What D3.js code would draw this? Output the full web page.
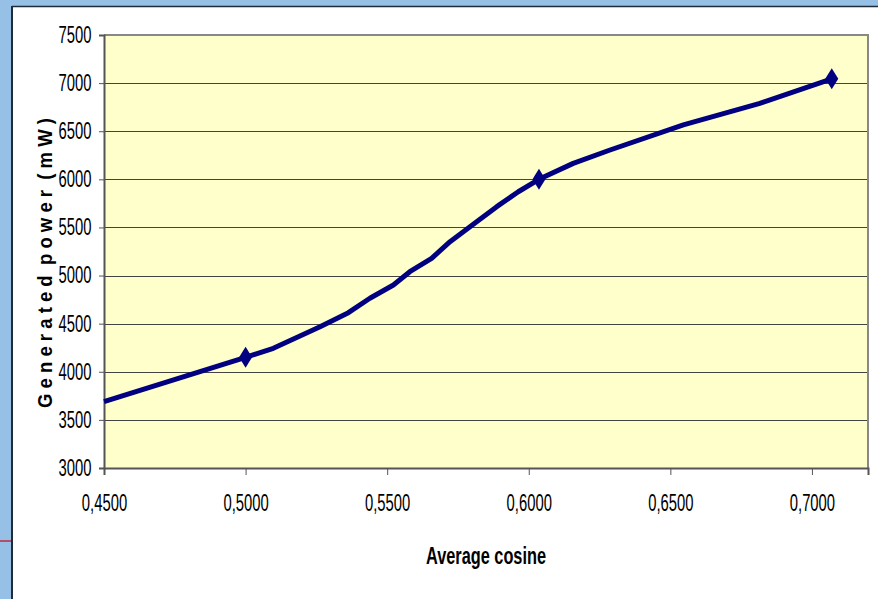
<!DOCTYPE html>
<html>
<head>
<meta charset="utf-8">
<script src="https://cdn.jsdelivr.net/npm/d3@7"></script>
<style>
  html, body { margin: 0; padding: 0; background: #96C0E6; }
  svg { display: block; }
  text { font-family: "Liberation Sans", Arial, sans-serif; fill: #000; }
</style>
</head>
<body>
<svg id="chart" width="878" height="599"></svg>
<script>
// Generated power versus average cosine
const cosine = [0.4500, 0.5000, 0.5098, 0.5263, 0.5363, 0.5439, 0.5522, 0.5580, 0.5657,
                0.5722, 0.5816, 0.5887, 0.5963, 0.6036, 0.6157, 0.6287, 0.6546, 0.6816, 0.7070];
const power  = [3690, 4150, 4244, 4468, 4614, 4764, 4902, 5040, 5179,
                5352, 5560, 5716, 5871, 6000, 6166, 6305, 6565, 6790, 7045];

// Measured points shown with diamond markers
const markerCosine = [0.5000, 0.6036, 0.7070];
const markerPower  = [4150, 6000, 7045];

// Axis ticks
const xTickValues = [0.45, 0.50, 0.55, 0.60, 0.65, 0.70];
const yTickValues = [3000, 3500, 4000, 4500, 5000, 5500, 6000, 6500, 7000, 7500];
const xDomain = [0.45, 0.7198];
const yDomain = [3000, 7500];

const xTitle = "Average cosine";
const yTitle = "G e n e r a t e d  p o w e r  ( m W )";

const svg = d3.select("#chart");
const W = 878, H = 599;

// Outer frame: blue margin, white chart area, dark edge
svg.append("rect").attr("x", 0).attr("y", 0).attr("width", W).attr("height", H).attr("fill", "#96C0E6");
svg.append("rect").attr("x", 12).attr("y", 7).attr("width", W - 12).attr("height", H - 7).attr("fill", "#ffffff");
svg.append("line").attr("x1", 12).attr("x2", 12).attr("y1", 6).attr("y2", H)
  .attr("stroke", "#1E2B38").attr("stroke-width", 2);
svg.append("line").attr("x1", 12).attr("x2", W).attr("y1", 6.5).attr("y2", 6.5)
  .attr("stroke", "#1E2B38").attr("stroke-width", 1.5);
svg.append("line").attr("x1", 0).attr("x2", 11).attr("y1", 541).attr("y2", 541)
  .attr("stroke", "#B0506A").attr("stroke-width", 2);

const plot = { left: 104, top: 35, right: 868, bottom: 468 };

const x = d3.scaleLinear().domain(xDomain).range([plot.left, plot.right]);
const y = d3.scaleLinear().domain(yDomain).range([plot.bottom, plot.top]);

// Plot area background
svg.append("rect")
  .attr("x", plot.left).attr("y", plot.top)
  .attr("width", plot.right - plot.left).attr("height", plot.bottom - plot.top)
  .attr("fill", "#FFFFCC");

// Horizontal gridlines
svg.append("g").selectAll("line")
  .data(yTickValues.filter(v => v > yDomain[0] && v < yDomain[1]))
  .join("line")
  .attr("x1", plot.left).attr("x2", plot.right)
  .attr("y1", d => Math.round(y(d)) + 0.5).attr("y2", d => Math.round(y(d)) + 0.5)
  .attr("stroke", "#444").attr("stroke-width", 1);

// Top and right border of the plot area
svg.append("path")
  .attr("d", `M${plot.left},${plot.top}H${plot.right}V${plot.bottom}`)
  .attr("fill", "none").attr("stroke", "#888").attr("stroke-width", 2);

// Tick labels are set in a horizontally condensed face
const labelScale = 0.645;

// Y axis
const yAxis = svg.append("g")
  .attr("transform", `translate(${plot.left},0)`)
  .call(d3.axisLeft(y).tickValues(yTickValues).tickSize(5).tickFormat(d3.format("d")));
yAxis.select(".domain").attr("stroke", "#555").attr("stroke-width", 2);
yAxis.selectAll(".tick line").attr("stroke", "#555").attr("stroke-width", 1);
yAxis.selectAll(".tick text")
  .attr("x", -12.5 / labelScale)
  .attr("transform", `scale(${labelScale},1)`)
  .style("font-size", "23px");

// X axis
const fmtX = d => d3.format(".4f")(d).replace(".", ",");
const xAxis = svg.append("g")
  .attr("transform", `translate(0,${plot.bottom})`)
  .call(d3.axisBottom(x).tickValues(xTickValues).tickSize(7).tickFormat(fmtX));
xAxis.select(".domain").attr("stroke", "#555").attr("stroke-width", 2);
xAxis.selectAll(".tick line").attr("stroke", "#555").attr("stroke-width", 1);
xAxis.selectAll(".tick text")
  .attr("y", 43.5).attr("dy", "0")
  .attr("transform", `scale(${labelScale},1)`)
  .style("font-size", "23px");

// Data line
const line = d3.line().x((d, i) => x(cosine[i])).y((d, i) => y(power[i]));
svg.append("path")
  .datum(power)
  .attr("d", line)
  .attr("fill", "none")
  .attr("stroke", "#000080")
  .attr("stroke-width", 5)
  .attr("stroke-linejoin", "round");

// Diamond markers
const diamond = "M0,-10.5L6.5,0L0,10.5L-6.5,0Z";
svg.append("g").selectAll("path")
  .data(markerPower)
  .join("path")
  .attr("d", diamond)
  .attr("transform", (d, i) => `translate(${x(markerCosine[i])},${y(d)})`)
  .attr("fill", "#000080");

// Axis titles
svg.append("text")
  .attr("x", (plot.left + plot.right) / 2).attr("y", 564)
  .attr("text-anchor", "middle")
  .attr("textLength", 120).attr("lengthAdjust", "spacingAndGlyphs")
  .style("font-size", "23px").style("font-weight", "bold")
  .text(xTitle);

svg.append("text")
  .attr("transform", "translate(52,263) rotate(-90)")
  .attr("text-anchor", "middle")
  .attr("textLength", 290).attr("lengthAdjust", "spacingAndGlyphs")
  .style("font-size", "21px").style("font-weight", "bold")
  .style("white-space", "pre")
  .text(yTitle);
</script>
</body>
</html>
